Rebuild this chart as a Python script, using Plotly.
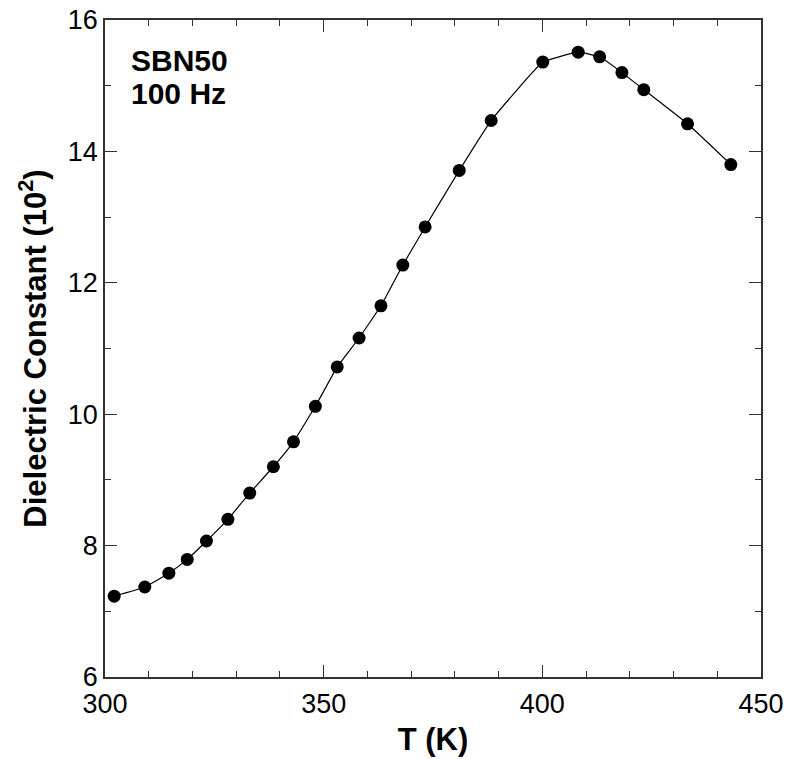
import plotly.graph_objects as go

temperature_K = [302.1, 309.1, 314.6, 318.8, 323.2, 328.1, 333.1, 338.5, 343.1, 348.1,
                 353.1, 358.1, 363.1, 368.1, 373.2, 381.0, 388.3, 400.1, 408.2, 413.1,
                 418.2, 423.2, 433.2, 443.1]
dielectric_constant = [7.23, 7.37, 7.58, 7.79, 8.07, 8.40, 8.80, 9.20, 9.58, 10.12,
                       10.72, 11.16, 11.65, 12.27, 12.85, 13.71, 14.47, 15.36, 15.51, 15.44,
                       15.20, 14.94, 14.42, 13.80]

x_ticks = [300, 350, 400, 450]
y_ticks = [6, 8, 10, 12, 14, 16]

FONT = "Liberation Sans, Arial, sans-serif"

fig = go.Figure()
fig.add_trace(go.Scatter(
    x=temperature_K, y=dielectric_constant, mode="lines+markers",
    line=dict(color="black", width=1.2, shape="spline", smoothing=0.3),
    marker=dict(color="black", size=13, symbol="circle"),
    showlegend=False,
))

fig.add_annotation(x=305.5, y=15.39, xref="x", yref="y", text="<b>SBN50</b>",
                   showarrow=False, xanchor="left", yanchor="middle",
                   font=dict(family=FONT, size=30, color="black"))
fig.add_annotation(x=305.5, y=14.88, xref="x", yref="y", text="<b>100 Hz</b>",
                   showarrow=False, xanchor="left", yanchor="middle",
                   font=dict(family=FONT, size=30, color="black"))

axis_common = dict(
    showgrid=False, zeroline=False, showline=True, linecolor="#333333", linewidth=1.5,
    mirror="ticks", ticks="inside", ticklen=12, tickwidth=1.3, tickcolor="#333333",
    tickfont=dict(family=FONT, size=27, color="black"), automargin=False,
)

fig.update_xaxes(
    range=[300, 450], tickvals=x_ticks, ticklabelstandoff=2,
    minor=dict(dtick=10, ticks="inside", ticklen=6, tickwidth=1.3, tickcolor="#333333"),
    title=dict(text="<b>T (K)</b>", font=dict(family=FONT, size=31, color="black"), standoff=10),
    **axis_common,
)
fig.update_yaxes(
    range=[6, 16], tickvals=y_ticks,
    minor=dict(dtick=1, ticks="inside", ticklen=6, tickwidth=1.3, tickcolor="#333333"),
    title=dict(text="<b>Dielectric Constant (10<sup>2</sup>)</b>",
               font=dict(family=FONT, size=31, color="black"), standoff=12),
    **axis_common,
)

fig.update_layout(
    width=787, height=759,
    margin=dict(l=105, r=26, t=20, b=82),
    paper_bgcolor="white", plot_bgcolor="white",
)

fig.write_html("out.html")
